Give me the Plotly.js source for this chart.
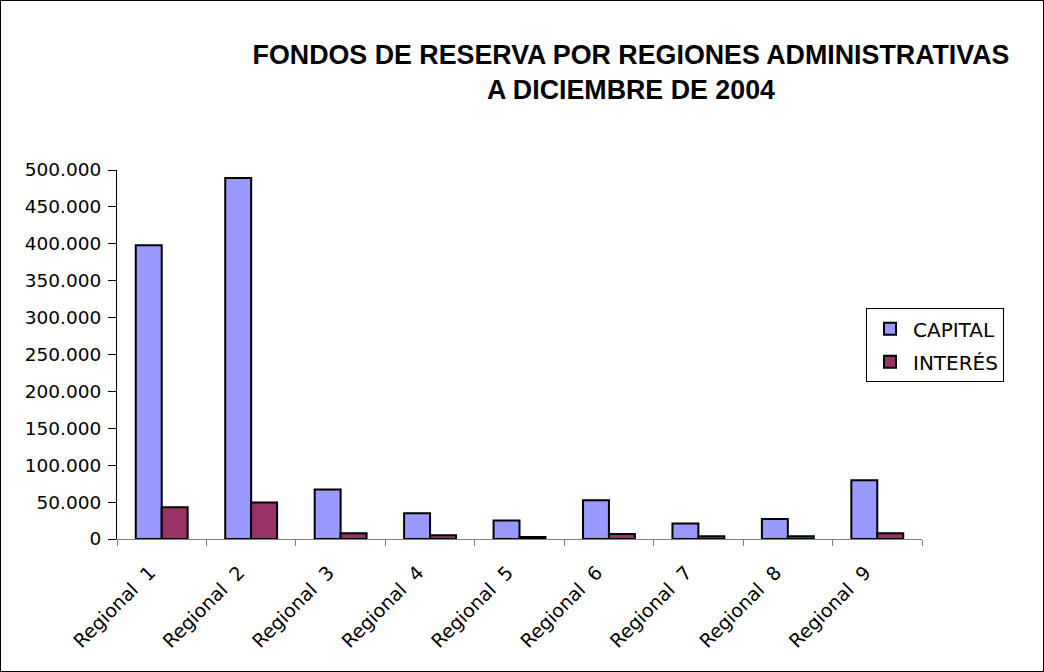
<!DOCTYPE html>
<html>
<head>
<meta charset="utf-8">
<script src="https://cdn.plot.ly/plotly-3.0.1.min.js"></script>
<style>
  html, body { margin: 0; padding: 0; background: #fff; }
  #wrap { position: relative; width: 1044px; height: 672px; }
  #chart { width: 1044px; height: 672px; }
  #frame { position: absolute; left: 0; top: 0; width: 1044px; height: 672px; box-sizing: border-box; border: 1px solid #000; pointer-events: none; }
</style>
</head>
<body>
<div id="wrap"><div id="chart"></div><div id="frame"></div></div>
<script>
const categories = ['Regional  1','Regional  2','Regional  3','Regional  4','Regional  5','Regional  6','Regional  7','Regional  8','Regional  9'];
const capital = [398000, 489000, 67000, 35000, 25000, 52500, 21000, 27000, 79500];
const interes = [43000, 49500, 7700, 5000, 2700, 6800, 3600, 3600, 7700];
const seriesNames = ['CAPITAL', 'INTERÉS'];
const yTicks = [0, 50000, 100000, 150000, 200000, 250000, 300000, 350000, 400000, 450000, 500000];
const titleLines = ['FONDOS DE RESERVA POR REGIONES ADMINISTRATIVAS', 'A DICIEMBRE DE 2004'];

const FONT = '"DejaVu Sans", Arial, sans-serif';
const TITLE_FONT = 'Arial, "Liberation Sans", sans-serif';

const traces = [
  { type: 'bar', name: seriesNames[0], x: categories, y: capital, legendgroup: 'a',
    marker: { color: '#9999FF', line: { color: '#000000', width: 2 } } },
  { type: 'bar', name: seriesNames[1], x: categories, y: interes, legendgroup: 'b',
    marker: { color: '#993366', line: { color: '#000000', width: 2 } } }
];

const layout = {
  width: 1044, height: 672,
  paper_bgcolor: '#ffffff', plot_bgcolor: '#ffffff',
  separators: ',.',
  margin: { l: 117, r: 122, t: 170, b: 133 },
  font: { family: FONT, color: '#000', size: 18 },
  barmode: 'group', bargap: 0.42, bargroupgap: 0,
  title: { text: titleLines.join('<br>'), font: { family: TITLE_FONT, size: 26.8, color: '#000', weight: 'bold' },
           xref: 'container', yref: 'container', x: 631 / 1044, xanchor: 'center', y: 1 - 64 / 672, yanchor: 'middle' },
  xaxis: {
    type: 'category', range: [-0.5, 8.5],
    showline: true, linecolor: '#808080', linewidth: 1,
    ticks: 'outside', tickson: 'boundaries', ticklen: 6, tickcolor: '#808080', tickwidth: 1,
    tickangle: -45, tickfont: { family: FONT, size: 19, color: '#000' },
    ticklabelstandoff: 14, ticklabelshift: -12,
    showgrid: false, zeroline: false, fixedrange: true
  },
  yaxis: {
    range: [0, 500000], tickvals: yTicks, tickformat: ',d',
    showline: true, linecolor: '#000', linewidth: 1,
    ticks: 'outside', ticklen: 8, tickcolor: '#000', tickwidth: 1,
    ticklabelstandoff: 3,
    tickfont: { family: FONT, size: 18.5, color: '#000' },
    showgrid: false, zeroline: false, fixedrange: true
  },
  legend: {
    x: (866 - 117) / 805, y: (538.7 - 308) / 369, xanchor: 'left', yanchor: 'top',
    bgcolor: '#fff', bordercolor: '#000', borderwidth: 1,
    font: { family: FONT, size: 20, color: '#000' },
    itemwidth: 36, entrywidth: 120, entrywidthmode: 'pixels',
    traceorder: 'grouped', tracegroupgap: 4
  },
  showlegend: true
};

Plotly.newPlot('chart', traces, layout, { displayModeBar: false, staticPlot: true });
</script>
</body>
</html>
